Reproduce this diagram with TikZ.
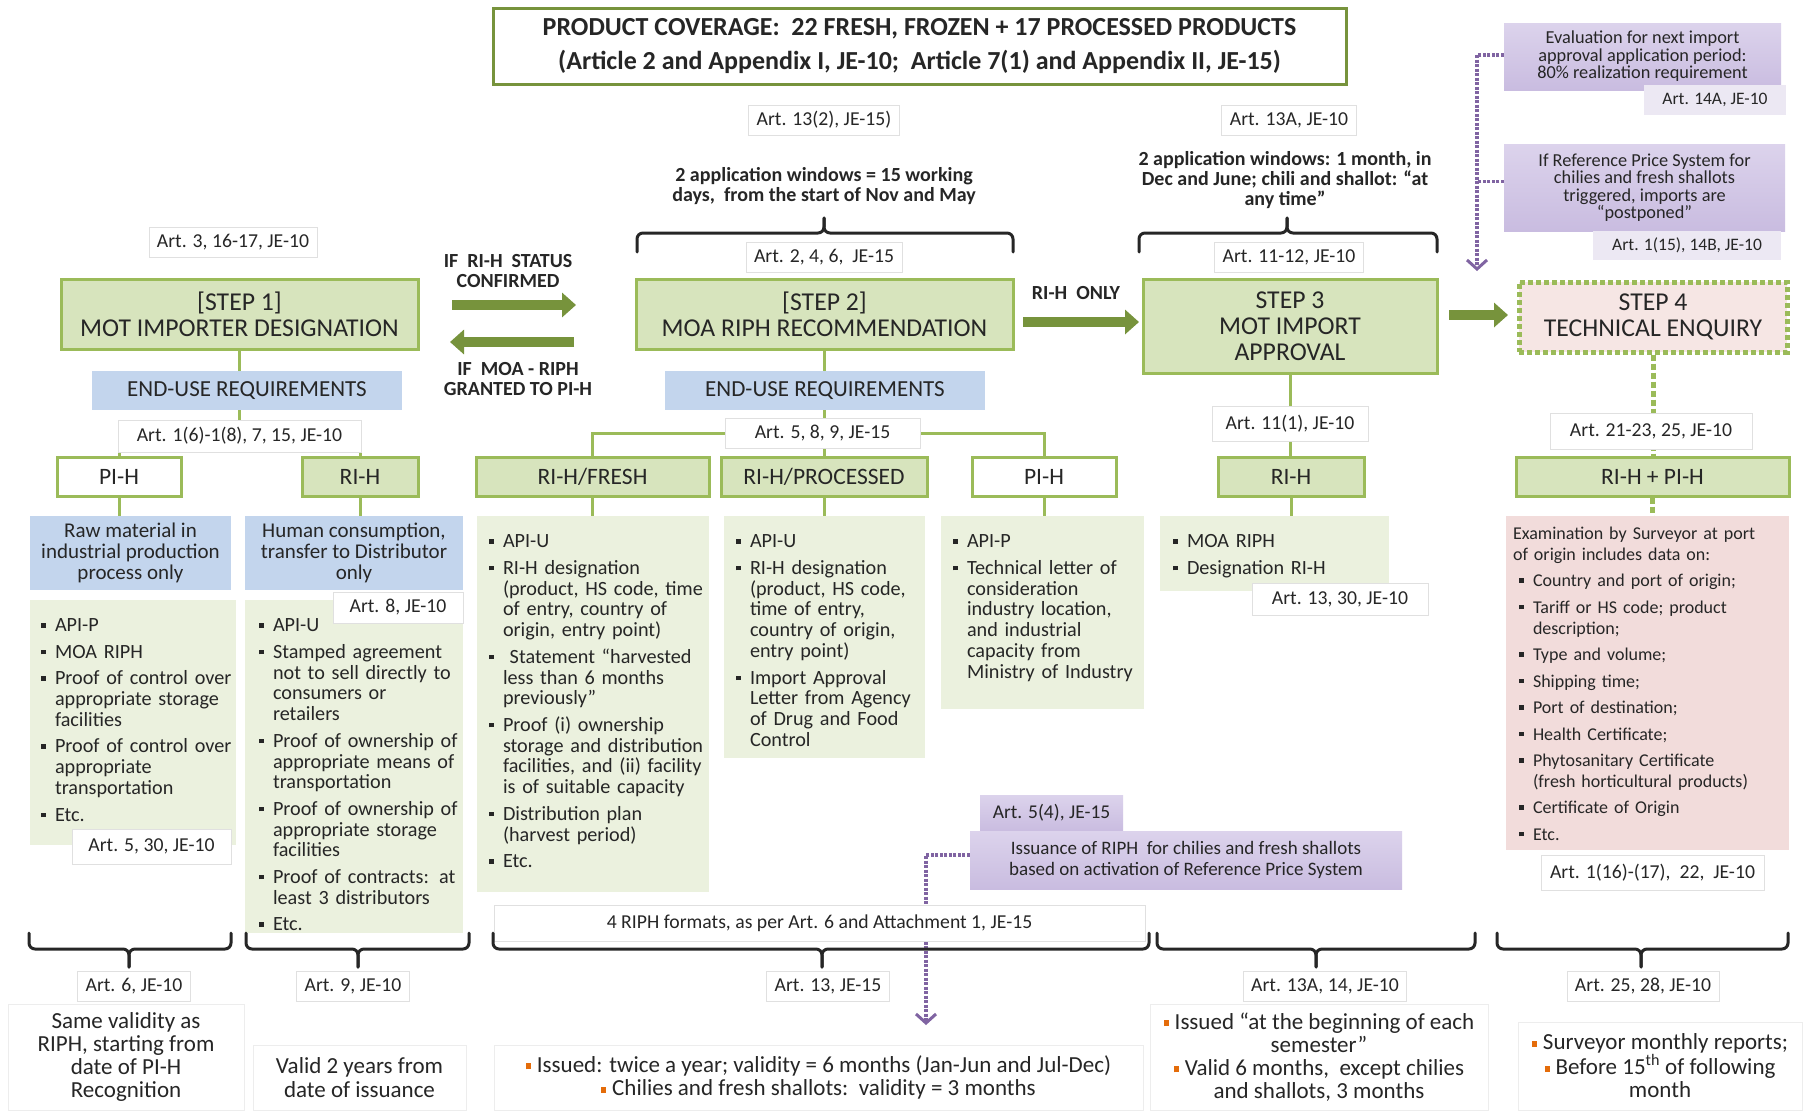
\documentclass[tikz,border=0pt]{standalone}
\usepackage{fontspec}
\setmainfont{Carlito}
\usetikzlibrary{arrows.meta,calc}
\pgfdeclarelayer{bg}
\pgfsetlayers{bg,main}
\definecolor{txt}{HTML}{262626}
\definecolor{stepfill}{HTML}{D7E4BD}
\definecolor{stepline}{HTML}{9BBB59}
\definecolor{arrowg}{HTML}{77933C}
\definecolor{eufill}{HTML}{C3D5ED}
\definecolor{listfill}{HTML}{EBF1DE}
\definecolor{pinkfill}{HTML}{F2DCDB}
\definecolor{sfourfill}{HTML}{F6E6E4}
\definecolor{purp}{HTML}{C9BCE0}
\definecolor{purpl}{HTML}{DCD3EC}
\definecolor{purpd}{HTML}{8064A2}
\definecolor{purplab}{HTML}{ECE8F3}
\definecolor{titleline}{HTML}{77933C}
\definecolor{orng}{HTML}{E46C0A}
\newcommand{\fs}[2]{\fontsize{#1}{#2}\selectfont}
\newcommand{\bul}{\makebox[14pt][l]{\raisebox{4pt}{\rule{4.5pt}{4.5pt}}}}
\newcommand{\itmA}[1]{\par\hangindent=14pt\hangafter=1\noindent\bul #1\par}
\newcommand{\itm}[1]{\vspace{5.7pt}\itmA{#1}}
\newcommand{\nl}{\hfil\break}
\newcommand{\ob}{\textcolor{orng}{\rule[3pt]{5pt}{6pt}}\hspace{6pt}}
\newcommand{\bx}[6]{\node[#1, minimum width={#4-#2}, minimum height={#5-#3}] (#6) at ({(#2+#4)/2},{(#3+#5)/2})}
\newcommand{\brc}[6]{%
  \draw[bracestyle] ({#1},{#4+#5}) -- ({#1},{#4}) -- ({#3},{#4}) -- ({#3},{#4+#6});
  \draw[bracestyle] ({#2},{#4+#5}) -- ({#2},{#4}) -- ({#3},{#4}) -- ({#3},{#4+#6});}
\begin{document}
\begin{tikzpicture}[x=1pt,y=-1pt,
  every node/.append style={text=txt},
  lbl/.style={fill=white, draw=black!12, line width=0.8pt, inner xsep=8pt, inner ysep=3pt, minimum height=30pt, font=\fs{19.7}{22}},
  faint/.style={fill=white, draw=black!7, line width=0.8pt, inner sep=0pt, align=center, font=\fs{23}{23.2}},
  titlebox/.style={fill=white, draw=titleline, line width=3pt, inner sep=0pt, align=center, font=\bfseries\fs{26}{34}},
  stepbox/.style={fill=stepfill, draw=stepline, line width=3pt, inner sep=0pt, align=center, font=\fs{25.7}{26}},
  stepfour/.style={fill=sfourfill, draw=stepline, line width=5pt, dash pattern=on 5pt off 3pt, inner sep=0pt, align=center, font=\fs{25.7}{26}},
  hbox/.style={draw=stepline, line width=3pt, inner sep=0pt, font=\fs{23.5}{24}},
  eubox/.style={fill=eufill, draw=none, inner sep=0pt, font=\fs{23}{24}},
  bluebox/.style={fill=eufill, draw=none, inner sep=0pt, align=center, font=\fs{21}{21}},
  listbox/.style={fill=listfill, draw=none, inner sep=0pt},
  pinkbox/.style={fill=pinkfill, draw=none, inner sep=0pt},
  listtext/.style={anchor=north west, inner sep=0pt, text width=300pt, align=left, font=\fs{20.2}{20.8}},
  btxt/.style={inner sep=1pt, align=center, font=\bfseries\fs{20}{20}},
  btxttwo/.style={inner sep=1pt, align=center, font=\bfseries\fs{20}{20.5}},
  purpbox/.style={top color=purpl, bottom color=purp, draw=none, inner sep=0pt, align=center, font=\fs{18.3}{17.5}},
  purplbl/.style={fill=purplab, draw=none, inner sep=0pt, font=\fs{17.5}{18}},
  conn/.style={draw=stepline, line width=3pt},
  dconn/.style={draw=stepline, line width=5pt, dash pattern=on 6pt off 3pt},
  garrow/.style={draw=arrowg, line width=10pt, -{Triangle[length=14pt,width=24pt]}},
  pdot/.style={draw=purpd, line width=3.5pt, dash pattern=on 3pt off 1.5pt, -{Straight Barb[length=9pt,width=20pt,line width=3pt]}},
  bracestyle/.style={draw=txt, line width=3pt, rounded corners=6pt, line cap=round}
]
\useasboundingbox (0,0) rectangle (1810,1112);
\begin{pgfonlayer}{bg}
\fill[white] (0,0) rectangle (1810,1112);
\end{pgfonlayer}

% title
\bx{titlebox}{493}{8}{1346}{84}{title}{PRODUCT COVERAGE:\ \ 22 FRESH, FROZEN + 17 PROCESSED PRODUCTS\\(Article 2 and Appendix I, JE-10;\ \ Article 7(1) and Appendix II, JE-15)};

% top labels
\node[lbl] (a3) at (233,242) {Art. 3, 16-17, JE-10};
\node[lbl] (a132) at (824,120) {Art. 13(2), JE-15)};
\node[lbl] (a13a) at (1289,120) {Art. 13A, JE-10};
\node[btxt] (wintwo) at (824,186) {2 application windows = 15 working\\days,\ \ from the start of Nov and May};
\node[btxt] (winthree) at (1285,180) {2 application windows: 1 month, in\\Dec and June; chili and shallot: “at\\any time”};
\node[lbl] (a246) at (824,257) {Art. 2, 4, 6,\ \ JE-15};
\node[lbl] (a1112) at (1289,257) {Art. 11-12, JE-10};
\brc{637}{1013}{824}{233}{19}{-15}
\brc{1139}{1437}{1287}{233}{19}{-15}

% steps
\bx{stepbox}{61}{279}{418}{349}{s1}{[STEP 1]\\MOT IMPORTER DESIGNATION};
\bx{stepbox}{636}{279}{1013}{349}{s2}{[STEP 2]\\MOA RIPH RECOMMENDATION};
\bx{stepbox}{1143}{279}{1437}{373}{s3}{STEP 3\\MOT IMPORT\\APPROVAL};
\bx{stepfour}{1519}{282}{1787}{352}{s4}{STEP 4\\TECHNICAL ENQUIRY};

% arrows between steps
\node[btxttwo] (ifri) at (508,271) {IF\ \ RI-H\ \ STATUS\\CONFIRMED};
\node[btxttwo] (ifmoa) at (518,379) {IF\ \ MOA - RIPH\\GRANTED TO PI-H};
\node[btxttwo] (rionly) at (1076,293) {RI-H\ \ ONLY};
\coordinate (ara) at (452,305); \coordinate (arb) at (576,305);
\coordinate (bra) at (574,342); \coordinate (brb) at (450,342);
\coordinate (cra) at (1023,322); \coordinate (crb) at (1139,322);
\coordinate (dra) at (1449,315); \coordinate (drb) at (1508,315);
\draw[garrow] (ara) -- (arb);
\draw[garrow] (bra) -- (brb);
\draw[garrow] (cra) -- (crb);
\draw[garrow] (dra) -- (drb);

% step 1 column
\bx{eubox}{92}{371}{402}{410}{eu1}{END-USE REQUIREMENTS};
\bx{lbl}{118}{420}{361}{452}{a16}{Art. 1(6)-1(8), 7, 15, JE-10};
\bx{hbox,fill=white}{57}{457}{181}{496}{pih1}{PI-H};
\bx{hbox,fill=stepfill}{302}{457}{418}{496}{rih1}{RI-H};
\bx{bluebox}{30}{516}{231}{590}{bl1}{Raw material in\\industrial production\\process only};
\bx{bluebox}{245}{516}{463}{590}{bl2}{Human consumption,\\transfer to Distributor\\only};
\bx{listbox}{30}{600}{236}{845}{l1}{};
\bx{listbox}{245}{600}{463}{933}{l2}{};
\node[listtext] (l1t) at ([shift={(11,11)}]l1.north west) {%
\itmA{API-P}\itm{MOA RIPH}\itm{Proof of control over\nl appropriate storage\nl facilities}\itm{Proof of control over\nl appropriate\nl transportation}\itm{Etc.}};
\node[listtext] (l2t) at ([shift={(14,11)}]l2.north west) {%
\itmA{API-U}\itm{Stamped agreement\nl not to sell directly to\nl consumers or\nl retailers}\itm{Proof of ownership of\nl appropriate means of\nl transportation}\itm{Proof of ownership of\nl appropriate storage\nl facilities}\itm{Proof of contracts: at\nl least 3 distributors}\itm{Etc.}};
\bx{lbl}{72}{829}{231}{864}{a530}{Art. 5, 30, JE-10};
\bx{lbl}{333}{592}{463}{623}{a8}{Art. 8, JE-10};

% step 2 column
\bx{eubox}{665}{371}{985}{410}{eu2}{END-USE REQUIREMENTS};
\bx{lbl}{725}{418}{920}{448}{a589}{Art. 5, 8, 9, JE-15};
\bx{hbox,fill=stepfill}{476}{457}{709}{496}{rifresh}{RI-H/FRESH};
\bx{hbox,fill=stepfill}{721}{457}{927}{496}{riproc}{RI-H/PROCESSED};
\bx{hbox,fill=white}{972}{457}{1116}{496}{pih2}{PI-H};
\bx{listbox}{477}{516}{709}{892}{l3}{};
\bx{listbox}{724}{516}{925}{758}{l4}{};
\bx{listbox}{941}{516}{1144}{709}{l5}{};
\node[listtext] (l3t) at ([shift={(12,11)}]l3.north west) {%
\itmA{API-U}\itm{RI-H designation\nl (product, HS code, time\nl of entry, country of\nl origin, entry point)}\itm{\ Statement “harvested\nl less than 6 months\nl previously”}\itm{Proof (i) ownership\nl storage and distribution\nl facilities, and (ii) facility\nl is of suitable capacity}\itm{Distribution plan\nl (harvest period)}\itm{Etc.}};
\node[listtext] (l4t) at ([shift={(12,11)}]l4.north west) {%
\itmA{API-U}\itm{RI-H designation\nl (product, HS code,\nl time of entry,\nl country of origin,\nl entry point)}\itm{Import Approval\nl Letter from Agency\nl of Drug and Food\nl Control}};
\node[listtext] (l5t) at ([shift={(12,11)}]l5.north west) {%
\itmA{API-P}\itm{Technical letter of\nl consideration\nl industry location,\nl and industrial\nl capacity from\nl Ministry of Industry}};

% step 3 column
\bx{lbl}{1212}{406}{1368}{441}{a111}{Art. 11(1), JE-10};
\bx{hbox,fill=stepfill}{1218}{457}{1364}{496}{rih3}{RI-H};
\bx{listbox}{1160}{516}{1389}{591}{l6}{};
\node[listtext] (l6t) at ([shift={(13,11)}]l6.north west) {%
\itmA{MOA RIPH}\itm{Designation RI-H}};
\bx{lbl}{1252}{583}{1428}{615}{a1330}{Art. 13, 30, JE-10};

% step 4 column
\bx{lbl}{1550}{413}{1752}{449}{a2123}{Art. 21-23, 25, JE-10};
\bx{hbox,fill=stepfill}{1516}{457}{1789}{496}{ripi}{RI-H + PI-H};
\bx{pinkbox}{1506}{516}{1789}{850}{pk}{};
\node[listtext, font=\fs{18}{20.8}] (pkt) at ([shift={(7,11)}]pk.north west) {%
\noindent Examination by Surveyor at port\nl of origin includes data on:\par\leftskip=6pt
\itm{Country and port of origin;}\itm{Tariff or HS code; product\nl description;}\itm{Type and volume;}\itm{Shipping time;}\itm{Port of destination;}\itm{Health Certificate;}\itm{Phytosanitary Certificate\nl (fresh horticultural products)}\itm{Certificate of Origin}\itm{Etc.}};
\bx{lbl}{1541}{855}{1764}{890}{a116}{Art. 1(16)-(17),\ \ 22,\ \ JE-10};

% purple boxes
\bx{purpbox}{1504}{23}{1781}{90}{p1}{Evaluation for next import\\approval application period:\\80\% realization requirement};
\bx{purplbl}{1644}{85}{1786}{115}{p1l}{Art. 14A, JE-10};
\bx{purpbox}{1504}{144}{1785}{231}{p2}{If Reference Price System for\\chilies and fresh shallots\\triggered, imports are\\“postponed”};
\bx{purplbl}{1593}{231}{1781}{260}{p2l}{Art. 1(15), 14B, JE-10};
\bx{purpbox,font=\fs{19.5}{21}}{980}{795}{1123}{831}{p3}{Art. 5(4), JE-15};
\bx{purpbox,font=\fs{19}{21}}{970}{831}{1402}{889}{p4}{Issuance of RIPH\ \ for chilies and fresh shallots\\based on activation of Reference Price System};
\coordinate (dtipa) at (1477,271);
\coordinate (dtipb) at (926,1025);

% bottom
\bx{lbl}{494}{905}{1145}{941}{f4}{4 RIPH formats, as per Art. 6 and Attachment 1, JE-15};
\brc{29}{231}{129}{949}{-16}{18}
\brc{246}{469}{358}{949}{-16}{18}
\brc{493}{1149}{822}{949}{-16}{18}
\brc{1157}{1475}{1316}{949}{-16}{18}
\brc{1497}{1788}{1641}{949}{-16}{18}
\node[lbl] (b1) at (134,986) {Art. 6, JE-10};
\node[lbl] (b2) at (353,986) {Art. 9, JE-10};
\node[lbl] (b3) at (828,986) {Art. 13, JE-15};
\node[lbl] (b4) at (1325,986) {Art. 13A, 14, JE-10};
\node[lbl] (b5) at (1643,986) {Art. 25, 28, JE-10};
\bx{faint}{8}{1004}{244}{1110}{t1}{Same validity as\\RIPH, starting from\\date of PI-H\\Recognition};
\bx{faint}{253}{1045}{466}{1110}{t2}{Valid 2 years from\\date of issuance};
\bx{faint}{494}{1045}{1143}{1110}{t3}{\ob Issued: twice a year; validity = 6 months (Jan-Jun and Jul-Dec)\\\ob Chilies and fresh shallots:\ \ validity = 3 months};
\bx{faint}{1150}{1004}{1488}{1110}{t4}{\ob Issued “at the beginning of each\\semester”\\\ob Valid 6 months,\ \ except chilies\\and shallots, 3 months};
\bx{faint}{1518}{1022}{1802}{1110}{t5}{\ob Surveyor monthly reports;\\\ob Before 15\textsuperscript{th} of following\\month};

% connectors
\begin{pgfonlayer}{bg}
\draw[conn] (s1.south) -- (s1.south |- a16.center);
\draw[conn] (pih1.north) |- (a16.center) -| (rih1.north);
\draw[conn] (pih1.south) -- (pih1.south |- bl1.north);
\draw[conn] (rih1.south) -- (rih1.south |- bl2.north);
\draw[conn] (s2.south) -- (s2.south |- riproc.north);
\draw[conn] (rifresh.north) |- (a589.center) -| (pih2.north);
\draw[conn] (rifresh.south) -- (rifresh.south |- l3.north);
\draw[conn] (riproc.south) -- (riproc.south |- l4.north);
\draw[conn] (pih2.south) -- (pih2.south |- l5.north);
\draw[conn] (s3.south) -- (s3.south |- rih3.north);
\draw[conn] (rih3.south) -- (rih3.south |- l6.north);
\draw[dconn] (s4.south) -- (s4.south |- ripi.north);
\draw[dconn] (ripi.south) -- (ripi.south |- pk.north);
\draw[pdot] ([yshift=1.5pt]p1.west) -| (dtipa);
\draw[pdot, -] ([yshift=6pt]p2.west) -- ([yshift=6pt]p2.west -| dtipa);
\draw[pdot] ([yshift=5pt]p4.west) -| (dtipb);
\end{pgfonlayer}
\end{tikzpicture}
\end{document}
